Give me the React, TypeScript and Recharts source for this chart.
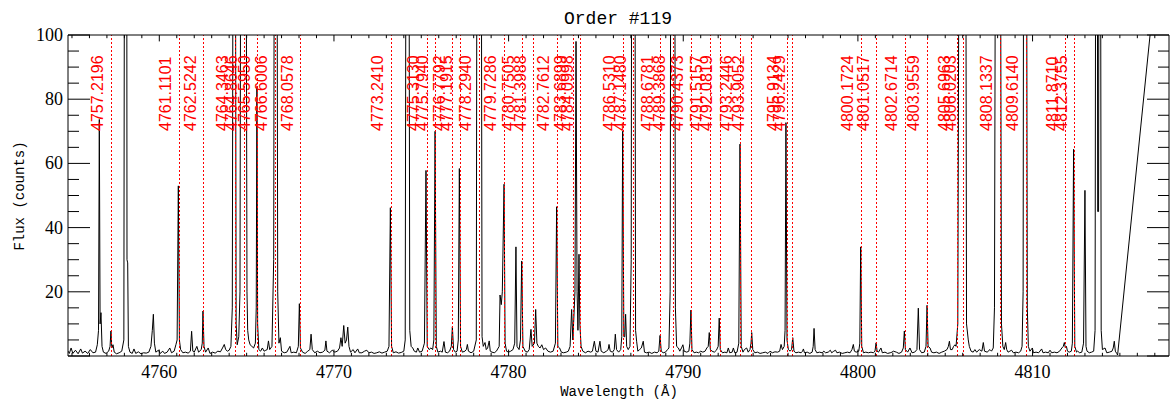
import React from "react";
import { LineChart, Line, XAxis, YAxis, ReferenceLine } from "recharts";

// wavelength (Å), flux (counts)
const spectrum: [number, number][] = [
  [4754.78, 1.5], [4754.85, 0.8], [4754.95, 2.5], [4755.05, 0.8], [4755.2, 1.8], [4755.35, 0.7],
  [4755.5, 2.2], [4755.6, 0.9], [4755.75, 1.5], [4755.9, 0.8], [4756.05, 2.0], [4756.2, 1.0],
  [4756.35, 1.2], [4756.45, 3.5], [4756.52, 8], [4756.565, 73.7], [4756.61, 10], [4756.66, 13.5],
  [4756.72, 3], [4756.8, 1.2], [4756.95, 0.8], [4757.1, 1.5], [4757.18, 3], [4757.23, 7.8],
  [4757.28, 2.5], [4757.35, 3.5], [4757.42, 1.2], [4757.55, 0.7], [4757.7, 1.0], [4757.85, 1.5],
  [4757.97, 5], [4758.02, 200], [4758.13, 200], [4758.15, 30], [4758.19, 29], [4758.23, 3],
  [4758.32, 1.2], [4758.45, 0.8], [4758.55, 2.2], [4758.65, 0.8], [4758.8, 1.3], [4758.95, 0.7],
  [4759.1, 1.0], [4759.25, 0.9], [4759.4, 1.2], [4759.52, 3], [4759.6, 8], [4759.66, 13],
  [4759.72, 4], [4759.8, 1.2], [4759.95, 1.8], [4760.05, 0.8], [4760.2, 1.5], [4760.3, 0.8],
  [4760.45, 1.2], [4760.6, 2.5], [4760.7, 1.0], [4760.85, 1.5], [4760.95, 3.5], [4761.02, 5],
  [4761.09, 53], [4761.15, 5], [4761.22, 2], [4761.35, 1.0], [4761.5, 1.2], [4761.65, 0.9],
  [4761.78, 1.5], [4761.85, 7.7], [4761.92, 1.5], [4762.0, 1.2], [4762.15, 3.0], [4762.25, 1.2],
  [4762.4, 2.0], [4762.46, 4], [4762.5, 14], [4762.56, 3], [4762.65, 1.2], [4762.8, 2.5],
  [4762.9, 0.8], [4763.05, 1.2], [4763.2, 0.9], [4763.35, 1.5], [4763.5, 1.3], [4763.62, 2.5],
  [4763.72, 3.6], [4763.8, 2.0], [4763.9, 1.5], [4764.0, 1.8], [4764.1, 3], [4764.18, 15],
  [4764.24, 200], [4764.34, 200], [4764.4, 10], [4764.46, 3.5], [4764.55, 6], [4764.62, 20],
  [4764.68, 200], [4764.95, 200], [4765.02, 20], [4765.06, 8], [4765.12, 5], [4765.2, 3.5],
  [4765.3, 3], [4765.4, 2.5], [4765.5, 4], [4765.55, 15], [4765.59, 84], [4765.63, 10],
  [4765.7, 2], [4765.8, 1.5], [4765.9, 2.5], [4766.0, 1.5], [4766.1, 1.8], [4766.18, 2],
  [4766.25, 4.7], [4766.32, 2], [4766.45, 3], [4766.55, 30], [4766.6, 200], [4766.72, 200],
  [4766.78, 20], [4766.85, 4], [4766.93, 5.7], [4767.0, 1.5], [4767.15, 1.0], [4767.3, 1.2],
  [4767.48, 3], [4767.55, 1.0], [4767.7, 1.2], [4767.85, 1.0], [4767.96, 3], [4768.02, 16.3],
  [4768.08, 2.5], [4768.2, 1.2], [4768.35, 0.8], [4768.5, 1.5], [4768.62, 2], [4768.69, 6.8],
  [4768.76, 2], [4768.9, 1.0], [4769.05, 1.5], [4769.2, 1.0], [4769.35, 1.2], [4769.48, 1.8],
  [4769.54, 4.7], [4769.6, 1.5], [4769.75, 1.0], [4769.9, 1.8], [4770.05, 1.2], [4770.2, 1.5],
  [4770.32, 2.5], [4770.4, 5.7], [4770.47, 3], [4770.56, 9.5], [4770.64, 4], [4770.72, 5],
  [4770.79, 9], [4770.86, 3], [4770.95, 1.2], [4771.1, 2], [4771.2, 1], [4771.36, 2.2],
  [4771.45, 1.0], [4771.6, 1.0], [4771.75, 1.5], [4771.88, 1.8], [4772.0, 1.0], [4772.15, 1.2],
  [4772.3, 0.8], [4772.45, 1.0], [4772.6, 1.3], [4772.75, 0.9], [4772.9, 1.2], [4773.05, 1.5],
  [4773.15, 3], [4773.23, 46.2], [4773.3, 3], [4773.4, 1.0], [4773.55, 1.3], [4773.7, 0.9],
  [4773.85, 1.1], [4774.0, 1.5], [4774.08, 5], [4774.14, 200], [4774.28, 200], [4774.34, 8],
  [4774.42, 3], [4774.51, 2.5], [4774.6, 1.5], [4774.72, 1.2], [4774.8, 2.5], [4774.9, 1.2],
  [4775.05, 1.5], [4775.18, 4], [4775.27, 57.8], [4775.34, 3], [4775.45, 2], [4775.55, 2.5],
  [4775.65, 2], [4775.72, 5], [4775.79, 70], [4775.86, 3], [4775.95, 1.2], [4776.1, 1.5],
  [4776.2, 1.2], [4776.3, 4.5], [4776.38, 1.2], [4776.5, 1.0], [4776.62, 1.5], [4776.72, 3],
  [4776.78, 9.1], [4776.85, 2], [4776.95, 1.2], [4777.05, 1.5], [4777.12, 5], [4777.18, 58.4],
  [4777.25, 3], [4777.35, 1.2], [4777.5, 1.5], [4777.58, 2], [4777.64, 3.6], [4777.7, 1.5],
  [4777.85, 1.0], [4778.0, 1.5], [4778.15, 5], [4778.2, 200], [4778.42, 200], [4778.48, 6],
  [4778.55, 3], [4778.65, 4.2], [4778.72, 2], [4778.8, 2.5], [4778.89, 4.7], [4778.95, 1.5],
  [4779.05, 1.2], [4779.18, 1.0], [4779.3, 1.5], [4779.46, 3], [4779.51, 19], [4779.58, 16],
  [4779.64, 20], [4779.74, 53.5], [4779.8, 4], [4779.88, 1.5], [4780.0, 1.2], [4780.12, 1.5],
  [4780.25, 2], [4780.35, 4], [4780.42, 34], [4780.48, 3], [4780.6, 2], [4780.68, 5],
  [4780.75, 29.6], [4780.82, 3], [4780.95, 1.5], [4781.08, 1.2], [4781.18, 2], [4781.28, 8.3],
  [4781.35, 3], [4781.48, 4], [4781.55, 14.5], [4781.62, 4], [4781.7, 3], [4781.8, 2.5],
  [4781.9, 3.5], [4782.0, 2], [4782.12, 2.5], [4782.25, 1.5], [4782.4, 1.2], [4782.55, 1.5],
  [4782.68, 4], [4782.75, 46.5], [4782.82, 3], [4782.92, 2.5], [4783.02, 1.2], [4783.15, 1.0],
  [4783.3, 1.2], [4783.42, 1.5], [4783.52, 3], [4783.61, 14.5], [4783.68, 5], [4783.8, 20],
  [4783.86, 98], [4783.92, 20], [4783.97, 8], [4784.03, 31.7], [4784.08, 10], [4784.15, 3],
  [4784.25, 1.5], [4784.4, 1.0], [4784.55, 1.5], [4784.7, 1.2], [4784.8, 1.5], [4784.91, 4.6],
  [4785.0, 1.5], [4785.12, 1.2], [4785.23, 4.6], [4785.3, 1.5], [4785.45, 1.0], [4785.6, 1.5],
  [4785.7, 2], [4785.75, 3.6], [4785.82, 1.5], [4785.95, 1.2], [4786.05, 2], [4786.11, 6.8],
  [4786.18, 2], [4786.3, 1.2], [4786.42, 2], [4786.48, 6], [4786.53, 70], [4786.6, 6],
  [4786.65, 6], [4786.7, 13], [4786.76, 3], [4786.85, 2], [4786.95, 3], [4787.02, 30],
  [4787.06, 200], [4787.22, 200], [4787.27, 8], [4787.33, 4.6], [4787.4, 1.5], [4787.5, 2],
  [4787.6, 2.5], [4787.71, 4.6], [4787.78, 1.2], [4787.9, 1.0], [4788.05, 1.2], [4788.2, 0.8],
  [4788.35, 1.2], [4788.5, 1.0], [4788.6, 1.5], [4788.67, 6.4], [4788.74, 1.5], [4788.85, 1.0],
  [4788.98, 1.2], [4789.1, 2], [4789.18, 2.5], [4789.25, 20], [4789.3, 200], [4789.5, 200],
  [4789.55, 15], [4789.62, 3], [4789.72, 2.5], [4789.8, 1.5], [4789.9, 2.5], [4789.98, 3.5],
  [4790.05, 1.5], [4790.2, 1.2], [4790.32, 1.5], [4790.38, 4], [4790.44, 14.3], [4790.5, 2],
  [4790.62, 1.0], [4790.75, 1.2], [4790.88, 1.0], [4791.0, 1.5], [4791.12, 1.2], [4791.25, 1.5],
  [4791.35, 2.5], [4791.43, 3], [4791.49, 7.3], [4791.55, 2], [4791.65, 1.5], [4791.78, 1.2],
  [4791.9, 1.8], [4792.0, 3], [4792.06, 11.8], [4792.12, 2], [4792.25, 1.0], [4792.38, 1.2],
  [4792.5, 1.0], [4792.58, 2.5], [4792.66, 1.0], [4792.8, 1.2], [4792.87, 2.5], [4792.95, 1.0],
  [4793.08, 1.2], [4793.18, 4], [4793.25, 66], [4793.32, 3], [4793.42, 1.2], [4793.5, 2],
  [4793.63, 2.5], [4793.72, 1.2], [4793.82, 2], [4793.88, 4], [4793.92, 7.3], [4793.98, 2],
  [4794.1, 1.0], [4794.25, 1.2], [4794.4, 0.8], [4794.55, 1.0], [4794.7, 1.2], [4794.85, 0.8],
  [4794.97, 1.5], [4795.1, 1.0], [4795.25, 1.3], [4795.4, 1.2], [4795.52, 1.5], [4795.6, 3.6],
  [4795.68, 2], [4795.78, 3], [4795.83, 8], [4795.88, 72.7], [4795.94, 5], [4796.02, 2],
  [4796.12, 1.5], [4796.2, 2], [4796.27, 5.7], [4796.34, 1.5], [4796.45, 1.0], [4796.6, 1.2],
  [4796.75, 1.0], [4796.83, 1.5], [4796.88, 2.2], [4796.94, 1.0], [4797.1, 1.2], [4797.25, 0.8],
  [4797.38, 1.2], [4797.44, 3], [4797.49, 8.6], [4797.55, 2], [4797.65, 1.0], [4797.8, 1.2],
  [4797.95, 1.0], [4798.05, 1.5], [4798.15, 1.0], [4798.3, 1.2], [4798.42, 1.8], [4798.5, 1.0],
  [4798.62, 1.5], [4798.72, 1.8], [4798.8, 1.0], [4798.95, 1.2], [4799.1, 0.8], [4799.25, 1.0],
  [4799.4, 1.2], [4799.55, 1.0], [4799.66, 2], [4799.74, 3.6], [4799.8, 1.5], [4799.9, 1.2],
  [4800.05, 1.5], [4800.11, 4], [4800.16, 34], [4800.22, 3], [4800.32, 1.0], [4800.45, 1.2],
  [4800.6, 1.0], [4800.75, 1.2], [4800.88, 1.0], [4800.98, 1.5], [4801.04, 4.1], [4801.1, 1.5],
  [4801.18, 1.2], [4801.32, 2.5], [4801.4, 1.0], [4801.55, 1.2], [4801.7, 0.8], [4801.85, 1.0],
  [4801.95, 1.2], [4802.03, 1.5], [4802.2, 1.2], [4802.35, 0.8], [4802.5, 1.2], [4802.6, 2.5],
  [4802.66, 7.8], [4802.72, 2], [4802.85, 1.2], [4802.98, 2.5], [4803.1, 1.0], [4803.25, 1.2],
  [4803.38, 2], [4803.46, 14.9], [4803.53, 2], [4803.65, 1.0], [4803.8, 1.2], [4803.9, 3],
  [4803.96, 15.8], [4804.02, 3], [4804.13, 2.5], [4804.22, 1.2], [4804.35, 1.0], [4804.5, 1.2],
  [4804.65, 0.8], [4804.8, 1.2], [4804.95, 1.5], [4805.1, 2], [4805.18, 3], [4805.24, 4.6],
  [4805.3, 2], [4805.4, 2], [4805.48, 3], [4805.56, 3.5], [4805.62, 3], [4805.72, 10],
  [4805.82, 200], [4806.16, 200], [4806.22, 10], [4806.32, 5], [4806.38, 3], [4806.48, 1.5],
  [4806.6, 1.2], [4806.7, 2.0], [4806.8, 1.2], [4806.95, 2], [4807.1, 1.5], [4807.18, 4.2],
  [4807.25, 1.5], [4807.4, 1.2], [4807.56, 2], [4807.65, 1.5], [4807.75, 2.5], [4807.82, 15],
  [4807.9, 200], [4808.14, 200], [4808.22, 10], [4808.3, 3], [4808.38, 2], [4808.46, 4.2],
  [4808.52, 2], [4808.6, 1.2], [4808.7, 1.5], [4808.8, 1.8], [4808.9, 1.0], [4809.05, 1.2],
  [4809.2, 1.0], [4809.32, 1.5], [4809.4, 3], [4809.46, 20], [4809.5, 200], [4809.64, 200],
  [4809.7, 15], [4809.76, 3], [4809.85, 1.5], [4809.99, 2.5], [4810.05, 1.0], [4810.2, 1.2],
  [4810.35, 1.0], [4810.52, 2.2], [4810.6, 1.0], [4810.75, 1.2], [4810.9, 1.0], [4811.0, 1.8],
  [4811.1, 1.0], [4811.25, 1.2], [4811.4, 1.0], [4811.55, 1.5], [4811.68, 2.5], [4811.76, 3],
  [4811.82, 4.2], [4811.88, 2.5], [4811.94, 3], [4812.0, 1.5], [4812.1, 1.2], [4812.22, 1.5],
  [4812.28, 4], [4812.35, 64.4], [4812.42, 3], [4812.52, 1.2], [4812.58, 1.5], [4812.7, 1.0],
  [4812.82, 1.2], [4812.92, 4], [4813.0, 51.6], [4813.06, 3], [4813.12, 1.5], [4813.25, 1.0],
  [4813.38, 1.2], [4813.5, 1.5], [4813.58, 8], [4813.63, 200], [4813.7, 200], [4813.73, 45],
  [4813.78, 45], [4813.81, 200], [4813.88, 200], [4813.93, 8], [4814.0, 2], [4814.15, 2.5],
  [4814.25, 1.0], [4814.4, 1.2], [4814.55, 1.5], [4814.62, 2.5], [4814.68, 4.6], [4814.74, 1.5],
  [4814.82, 0.8], [4814.87, 0.3], [4817.81, 158],
];

// identified lines (red dotted markers)
const lineIds = [
  4757.2196, 4761.1101, 4762.5242, 4764.3463, 4764.8646, 4765.595, 4766.6006, 4768.0578,
  4773.241, 4775.313, 4775.794, 4776.7792, 4777.1915, 4778.294, 4779.7286, 4780.7505,
  4781.3988, 4782.7612, 4783.6899, 4784.0998, 4786.531, 4787.148, 4788.6781, 4789.3868,
  4790.4373, 4791.5157, 4792.0819, 4793.2446, 4793.9052, 4795.9134, 4796.2429, 4800.1724,
  4801.0517, 4802.6714, 4803.9559, 4805.6963, 4806.0203, 4808.1337, 4809.614, 4811.871,
  4812.3755,
];

const xDomain = [4754.772, 4817.813];
const xLabels = [4760, 4770, 4780, 4790, 4800, 4810];
const yLabels = [20, 40, 60, 80, 100];
const xTicks = Array.from({ length: 63 }, (_, i) => 4755 + i);
const yTicks = Array.from({ length: 21 }, (_, i) => i * 5);

const data = spectrum.map(([w, f]) => ({ w, f }));

const tickFont = { fontFamily: "Liberation Serif", fontSize: 18, fill: "#000" };

const BottomTick = (p: any) => {
  const v = p.payload.value;
  const major = xLabels.includes(v);
  return (
    <g>
      <line x1={p.x} x2={p.x} y1={p.y} y2={p.y - (major ? 6.4 : 3.2)} stroke="#000" />
      {major && (
        <text x={p.x} y={p.y + 22} textAnchor="middle" {...tickFont}>
          {v}
        </text>
      )}
    </g>
  );
};

const TopTick = (p: any) => {
  const major = xLabels.includes(p.payload.value);
  return <line x1={p.x} x2={p.x} y1={p.y} y2={p.y + (major ? 6.4 : 3.2)} stroke="#000" />;
};

const LeftTick = (p: any) => {
  const v = p.payload.value;
  const major = v % 20 === 0;
  return (
    <g>
      <line x1={p.x} x2={p.x + (major ? 22 : 11)} y1={p.y} y2={p.y} stroke="#000" />
      {yLabels.includes(v) && (
        <text x={p.x - 5} y={p.y + 6} textAnchor="end" {...tickFont}>
          {v}
        </text>
      )}
    </g>
  );
};

const RightTick = (p: any) => {
  const major = p.payload.value % 20 === 0;
  return <line x1={p.x} x2={p.x - (major ? 22 : 11)} y1={p.y} y2={p.y} stroke="#000" />;
};

// dotted red marker, snapped to the pixel grid so the dots stay red
const DottedRed = (p: any) => {
  const x = Math.round(p.x1) + 0.5;
  return (
    <line
      x1={x}
      y1={p.y1}
      x2={x}
      y2={p.y2}
      stroke="#ff0000"
      strokeWidth={1}
      strokeDasharray="2 2"
      shapeRendering="crispEdges"
      fill="none"
    />
  );
};

const LineTag = ({ vb, text }: { vb: any; text: string }) => {
  if (!vb) return null;
  const x = vb.x - 7.5;
  const y = vb.y + 96;
  return (
    <text
      x={x}
      y={y}
      transform={`rotate(-90, ${x}, ${y})`}
      fill="#ff0000"
      fontFamily="Liberation Sans"
      fontSize={16}
    >
      {text}
    </text>
  );
};

export default function App() {
  return (
    <div style={{ position: "absolute", left: 0, top: 0, width: 1170, height: 402, background: "#fff" }}>
      <LineChart width={1170} height={402} data={data} margin={{ top: 0, right: 0, bottom: 0, left: 0 }}>
        <XAxis
          dataKey="w"
          type="number"
          scale="linear"
          domain={xDomain}
          allowDataOverflow
          ticks={xTicks}
          interval={0}
          height={46}
          tickSize={0}
          tickMargin={0}
          tickLine={false}
          tick={<BottomTick />}
          axisLine={{ stroke: "#000" }}
        />
        <XAxis
          xAxisId="top"
          orientation="top"
          dataKey="w"
          type="number"
          scale="linear"
          domain={xDomain}
          allowDataOverflow
          ticks={xTicks}
          interval={0}
          height={35}
          tickSize={0}
          tickMargin={0}
          tickLine={false}
          tick={<TopTick />}
          axisLine={{ stroke: "#000" }}
        />
        <YAxis
          type="number"
          domain={[0, 100]}
          allowDataOverflow
          ticks={yTicks}
          interval={0}
          width={68}
          tickSize={0}
          tickMargin={0}
          tickLine={false}
          tick={<LeftTick />}
          axisLine={{ stroke: "#000" }}
        />
        <YAxis
          yAxisId="right"
          orientation="right"
          type="number"
          domain={[0, 100]}
          allowDataOverflow
          ticks={yTicks}
          interval={0}
          width={1}
          tickSize={0}
          tickMargin={0}
          tickLine={false}
          tick={<RightTick />}
          axisLine={{ stroke: "#000" }}
        />
        <Line
          dataKey="f"
          type="linear"
          stroke="#000"
          strokeWidth={1}
          dot={false}
          activeDot={false}
          isAnimationActive={false}
        />
        {lineIds.map((w) => (
          <ReferenceLine
            key={w}
            x={w}
            stroke="#ff0000"
            shape={DottedRed}
            label={(props: any) => <LineTag vb={props.viewBox} text={w.toFixed(4)} />}
          />
        ))}
      </LineChart>
      <svg width={1170} height={402} style={{ position: "absolute", left: 0, top: 0, pointerEvents: "none" }}>
        <text x={618} y={24} textAnchor="middle" fontFamily="Liberation Mono" fontSize={18} fill="#000">
          Order #119
        </text>
        <text x={619} y={396} textAnchor="middle" fontFamily="Liberation Mono" fontSize={14} fill="#000">
          Wavelength (Å)
        </text>
        <text
          x={24}
          y={196}
          textAnchor="middle"
          transform="rotate(-90, 24, 196)"
          fontFamily="Liberation Mono"
          fontSize={14}
          fill="#000"
        >
          Flux (counts)
        </text>
      </svg>
    </div>
  );
}
